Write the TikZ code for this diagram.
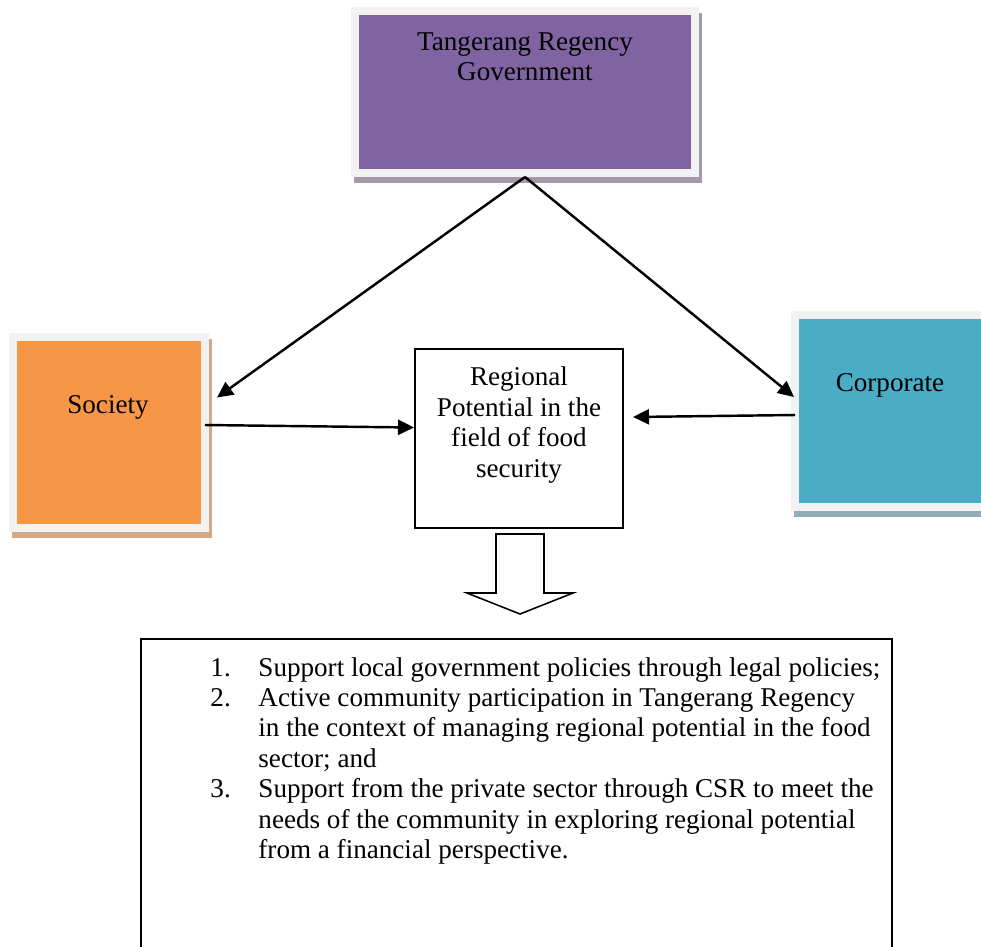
\documentclass[tikz,border=0pt]{standalone}
\usepackage{fontspec}
\setmainfont{Liberation Serif}
\usetikzlibrary{arrows.meta}
\usetikzlibrary{positioning,calc}
\definecolor{govpurple}{RGB}{128,100,162}
\definecolor{govshade}{RGB}{162,154,171}
\definecolor{socorange}{RGB}{247,150,70}
\definecolor{socshade}{RGB}{210,168,135}
\definecolor{corpblue}{RGB}{75,172,198}
\definecolor{corpshade}{RGB}{148,174,182}
\colorlet{framegray}{black!5}

\begin{document}
\begin{tikzpicture}[
		x=0.45pt, y=-0.45pt,
		every node/.style={
			font=\fontsize{12.2}{13.7}\selectfont,
			inner sep=0pt
		},
		colbox/.style 2 args={draw=framegray, line width=3.6pt, fill=#1,
			preaction={draw=#2, fill=#2, transform canvas={xshift=1.35pt, yshift=-2.7pt}}},
		plainbox/.style={draw, line width=0.9pt},
		arr/.style={-{Triangle[length=7.2pt,width=6.8pt]}, line width=1.1pt}
	]

	\def\u{0.45pt}

	\useasboundingbox (0,0) rectangle (981,946);
	\clip (0,0) rectangle (981,946);

	% the three actors
	\node[colbox={govpurple}{govshade}, minimum width=340*\u, minimum height=162*\u] (gov) at (525,92) {};
	\node[align=center] (govtext) at (525,57) {Tangerang Regency\\Government};

	\node[colbox={socorange}{socshade}, minimum width=192*\u, minimum height=191*\u] (soc) at (109,432.5) {};
	\node (soctext) at (108,407) {Society};

	\node[colbox={corpblue}{corpshade}, minimum width=190*\u, minimum height=192*\u] (corp) at (890,411) {};
	\node (corptext) at (890,385) {Corporate};

	% the potential in the middle
	\node[plainbox, minimum width=208*\u, minimum height=179*\u] (pot) at (519,438.5) {};
	\node[align=center] (pottext) at (519,425) {Regional\\Potential in the\\field of food\\security};

	\coordinate (socin) at ($(soc.east)+(8,-35)$);
	\coordinate (socout) at ($(soc.east)+(-4,-7.5)$);
	\coordinate (corpin) at ($(corp.west)+(3,-14)$);
	\coordinate (corpout) at ($(corp.west)+(4,4)$);
	\coordinate (potl) at ($(pot.west)+(0,-11)$);
	\coordinate (potr) at ($(pot.east)+(9,-21.5)$);

	\draw[arr] (gov.south) -- (socin);
	\draw[arr] (gov.south) -- (corpin);
	\draw[arr] (socout) -- (potl);
	\draw[arr] (corpout) -- (potr);

	% block arrow down
	\draw[line width=0.7pt, line join=miter] ($(pot.south)+(-23,5)$) -- ++(0,59) -- ++(-29,0)
		-- ($(pot.south)+(1,85)$) -- ($(pot.south)+(54,64)$) -- ++(-29,0) -- ++(0,-59) -- cycle;

	% results
	\node[plainbox, minimum width=751*\u, minimum height=330*\u] (res) at (516.5,804) {};
	\node[anchor=base west] (restext) at (210,676) {%
		\begin{tabular}[t]{@{}p{21.6pt}@{}l@{}}
			1. & Support local government policies through legal policies;\\
			2. & Active community participation in Tangerang Regency\\
			   & in the context of managing regional potential in the food\\
			   & sector; and\\
			3. & Support from the private sector through CSR to meet the\\
			   & needs of the community in exploring regional potential\\
			   & from a financial perspective.
		\end{tabular}};

\end{tikzpicture}
\end{document}
